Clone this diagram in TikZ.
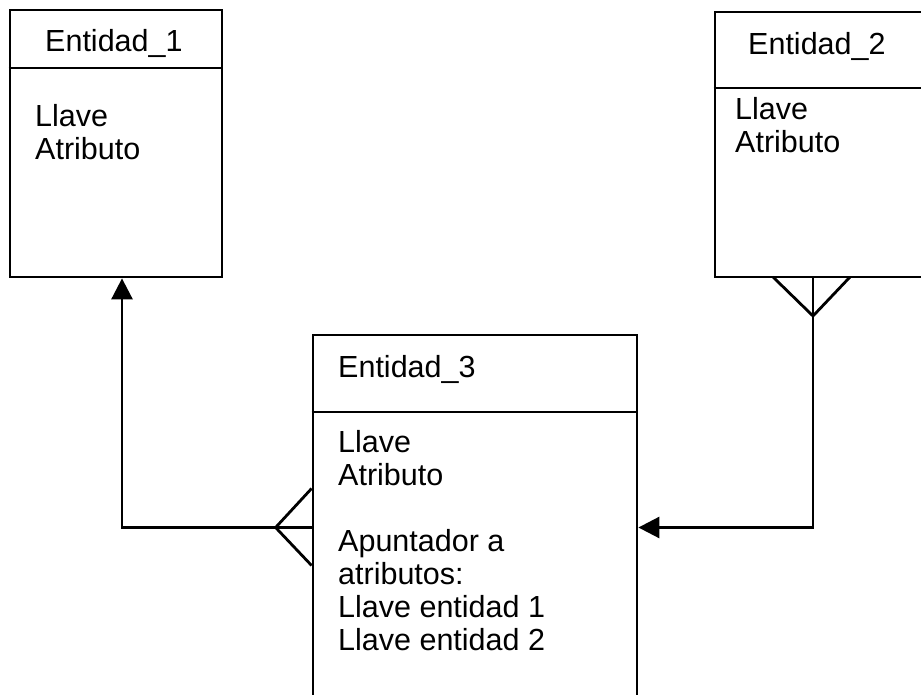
\documentclass[tikz,border=0pt]{standalone}
\usepackage{fontspec}
\setmainfont{Liberation Sans}
\usetikzlibrary{arrows.meta, fit}

\tikzset{
  entbox/.style={draw, line width=2.8pt, inner sep=0pt},
  entlabel/.style={anchor=base west, inner sep=0pt, align=left, font=\fontsize{30.5}{33}\selectfont},
  relline/.style={line width=2.8pt},
  relarrow/.style={relline, -{Triangle[length=21pt, width=21pt]}},
}

\begin{document}
\begin{tikzpicture}[x=1pt, y=-1pt]
\clip (0,0) rectangle (921,695);
\fill[white] (0,0) rectangle (921,695);
% entidades
\node[entbox, fit={(10,10) (222,277)}] (e1) {};
\node[entbox, fit={(715,12) (960,277)}] (e2) {};
\node[entbox, fit={(313,335) (637,720)}] (e3) {};
\draw[relline] (e1.west |- 0,68) -- (e1.east |- 0,68);
\draw[relline] (e2.west |- 0,88) -- (e2.east |- 0,88);
\draw[relline] (e3.west |- 0,412) -- (e3.east |- 0,412);

% textos (base = ultima linea)
\node[entlabel] (e1name) at (45,52) {Entidad\_1};
\node[entlabel] (e1body) at (35,160) {Llave\\Atributo};
\node[entlabel] (e2name) at (748,55) {Entidad\_2};
\node[entlabel] (e2body) at (735,153) {Llave\\Atributo};
\node[entlabel] (e3name) at (338,377) {Entidad\_3};
\node[entlabel] (e3body) at (338,650) {Llave\\Atributo\\[33pt]Apuntador a\\atributos:\\Llave entidad 1\\Llave entidad 2};

% relaciones
\coordinate (e2foot) at (813,277);
\draw[relarrow] (e3.west) -| ([xshift=6pt]e1.south);
\draw[relarrow] (e2foot) |- (e3.east);
\draw[relline] ([xshift=-40pt]e2foot) -- ++(40,39) -- ++(37,-39);
\draw[relline] ([yshift=39pt]e3.west) -- ++(-36,39) -- ++(36,38);
\end{tikzpicture}
\end{document}
